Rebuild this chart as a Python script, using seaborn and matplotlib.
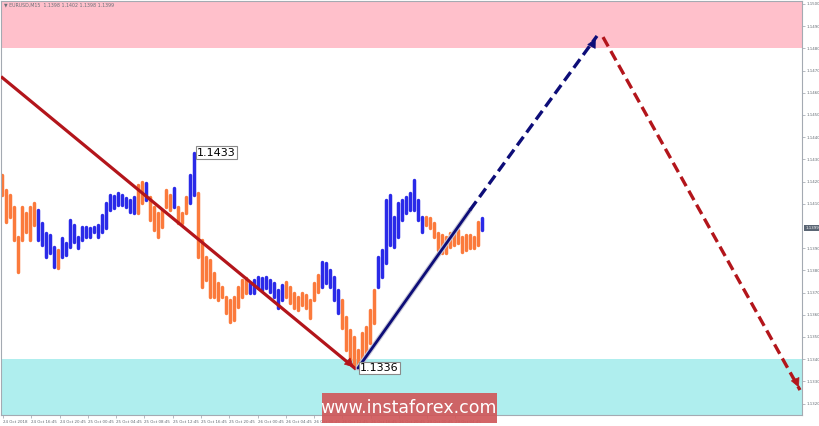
import numpy as np
import pandas as pd
import matplotlib
matplotlib.use("Agg")
import matplotlib.pyplot as plt
import matplotlib.patheffects as pe
from matplotlib.patches import Rectangle
from matplotlib.transforms import blended_transform_factory
import seaborn as sns

# EURUSD M15 bars (high / low per bar, "U" = blue, "D" = orange)
highs = [
    1.14230, 1.14162, 1.14140, 1.14086, 1.13950, 1.14086, 1.14059, 1.14086, 1.14104, 1.14072,
    1.14014, 1.13968, 1.13959, 1.13905, 1.13892, 1.13946, 1.13923, 1.14027, 1.14005, 1.13950,
    1.13995, 1.13995, 1.13991, 1.13995, 1.14005, 1.14050, 1.14104, 1.14140, 1.14135, 1.14149,
    1.14140, 1.14126, 1.14117, 1.14131, 1.14185, 1.14198, 1.14194, 1.14131, 1.14086, 1.14059,
    1.14072, 1.14162, 1.14140, 1.14171, 1.14086, 1.14059, 1.14131, 1.14230, 1.14329, 1.14149,
    1.13937, 1.13860, 1.13847, 1.13788, 1.13743, 1.13725, 1.13680, 1.13667, 1.13680, 1.13725,
    1.13757, 1.13766, 1.13743, 1.13757, 1.13770, 1.13766, 1.13770, 1.13757, 1.13743, 1.13712,
    1.13734, 1.13748, 1.13725, 1.13698, 1.13680, 1.13698, 1.13689, 1.13667, 1.13743, 1.13779,
    1.13838, 1.13833, 1.13802, 1.13770, 1.13712, 1.13667, 1.13590, 1.13532, 1.13500, 1.13441,
    1.13518, 1.13545, 1.13622, 1.13712, 1.13860, 1.13892, 1.14117, 1.14140, 1.14041, 1.14104,
    1.14117, 1.14131, 1.14149, 1.14207, 1.14117, 1.14041, 1.14041, 1.14036, 1.14014, 1.13968,
    1.13959, 1.13950, 1.13968, 1.13968, 1.13982, 1.13950, 1.13959, 1.13959, 1.13950, 1.14018,
    1.14036,
]
lows = [
    1.14140, 1.14018, 1.14041, 1.13937, 1.13793, 1.13937, 1.13973, 1.13937, 1.14005, 1.13937,
    1.13914, 1.13860, 1.13878, 1.13815, 1.13811, 1.13860, 1.13869, 1.13905, 1.13928, 1.13901,
    1.13937, 1.13950, 1.13950, 1.13973, 1.13950, 1.13973, 1.13991, 1.14072, 1.14081, 1.14095,
    1.14095, 1.14086, 1.14063, 1.14059, 1.14059, 1.14104, 1.14117, 1.14027, 1.13982, 1.13950,
    1.13995, 1.14086, 1.14072, 1.14086, 1.14014, 1.14014, 1.14059, 1.14104, 1.14140, 1.13860,
    1.13725, 1.13757, 1.13680, 1.13680, 1.13667, 1.13680, 1.13608, 1.13568, 1.13577, 1.13635,
    1.13680, 1.13698, 1.13698, 1.13698, 1.13721, 1.13712, 1.13721, 1.13703, 1.13680, 1.13631,
    1.13667, 1.13680, 1.13653, 1.13631, 1.13622, 1.13644, 1.13631, 1.13586, 1.13667, 1.13703,
    1.13725, 1.13743, 1.13725, 1.13667, 1.13608, 1.13541, 1.13441, 1.13396, 1.13374, 1.13360,
    1.13383, 1.13428, 1.13473, 1.13563, 1.13725, 1.13770, 1.13833, 1.13914, 1.13905, 1.13950,
    1.14027, 1.14059, 1.14072, 1.14072, 1.14027, 1.13973, 1.14005, 1.13991, 1.13950, 1.13892,
    1.13878, 1.13878, 1.13905, 1.13914, 1.13923, 1.13883, 1.13892, 1.13901, 1.13901, 1.13914,
    1.13982,
]
# bar colour runs: (side, number of bars)
side_runs = [("D", 9), ("U", 5), ("D", 1), ("U", 19), ("D", 2), ("U", 1), ("D", 6), ("U", 1),
             ("D", 3), ("U", 2), ("D", 13), ("U", 9), ("D", 9), ("U", 5), ("D", 9), ("U", 12),
             ("D", 14), ("U", 1)]
sides = [s for s, k in side_runs for _ in range(k)]

# wave markup: (bar, price)
wave_down_x = [-0.25, 88.5]
wave_down_y = [1.14673, 1.13355]
wave_up_x = [89.0, 117.0, 148.75]
wave_up_y = [1.13360, 1.14072, 1.14856]
wave_next_x = [150.25, 199.5]
wave_next_y = [1.14851, 1.13261]

label_high = (48.75, 1.1433, "1.1433")
label_low = (89.5, 1.1336, "1.1336")

zone_sell = (1.1480, 1.1510)
zone_buy = (1.1300, 1.1340)
last_price = 1.1399

y_ticks = [1.1500, 1.1490, 1.1480, 1.1470, 1.1460, 1.1450, 1.1440, 1.1430, 1.1420, 1.1410,
           1.1390, 1.1380, 1.1370, 1.1360, 1.1350, 1.1340, 1.1330, 1.1320]
x_labels = ["24 Oct 2018", "24 Oct 16:45", "24 Oct 20:45", "25 Oct 00:45", "25 Oct 04:45",
            "25 Oct 08:45", "25 Oct 12:45", "25 Oct 16:45", "25 Oct 20:45", "26 Oct 00:45",
            "26 Oct 04:45", "26 Oct 08:45", "26 Oct 12:45", "26 Oct 16:45", "26 Oct 20:45",
            "29 Oct 00:45", "29 Oct 04:45"]

ORANGE = "#fb7a3c"
BLUE = "#2a2ae8"
RED = "#b3151b"
NAVY = "#0d0d78"

sns.set_theme(style="white")
plt.rcParams["font.family"] = ["DejaVu Sans"]

fig = plt.figure(figsize=(8.2, 4.26), dpi=100)
ax = fig.add_axes([1 / 820, 11 / 426, 801 / 820, 414 / 426])

# zones
ax.axhspan(*zone_sell, color="#ffc0cb", lw=0, zorder=0)
ax.axhspan(*zone_buy, color="#afeeee", lw=0, zorder=0)

# price bars
n = len(highs)
bars = pd.DataFrame({
    "bar": list(range(n)) * 2,
    "price": highs + lows,
    "side": sides * 2,
})
sns.lineplot(data=bars, x="bar", y="price", hue="side", units="bar", estimator=None,
             palette={"U": BLUE, "D": ORANGE}, legend=False, linewidth=2.5, ax=ax, zorder=2)

# wave arrows
ax.plot(wave_down_x, wave_down_y, color=RED, lw=2.3, zorder=4, solid_capstyle="butt")
ax.annotate("", xy=(wave_down_x[1], wave_down_y[1]),
            xytext=(wave_down_x[1] - 2.0, wave_down_y[1] + 0.00033),
            arrowprops=dict(arrowstyle="-|>", color=RED, lw=0.5, mutation_scale=15), zorder=5)

stroke = [pe.Stroke(linewidth=3.6, foreground="#c8c8d8"), pe.Normal()]
ax.plot(wave_up_x[:2], wave_up_y[:2], color=NAVY, lw=2.0, zorder=4, path_effects=stroke)
ax.plot(wave_up_x[1:], wave_up_y[1:], color=NAVY, lw=2.4, ls=(0, (3.2, 1.6)), zorder=4)
ax.annotate("", xy=(wave_up_x[2], wave_up_y[2]),
            xytext=(wave_up_x[2] - 1.6, wave_up_y[2] - 0.00055),
            arrowprops=dict(arrowstyle="-|>", color=NAVY, lw=0.5, mutation_scale=15), zorder=5)

ax.plot(wave_next_x, wave_next_y, color=RED, lw=2.4, ls=(0, (3.2, 1.6)), zorder=4)
ax.annotate("", xy=(wave_next_x[1], wave_next_y[1]),
            xytext=(wave_next_x[1] - 1.6, wave_next_y[1] + 0.00065),
            arrowprops=dict(arrowstyle="-|>", color=RED, lw=0.5, mutation_scale=15), zorder=5)

# level labels
for lx, ly, txt in (label_high, label_low):
    ax.text(lx, ly, txt, fontsize=8, color="black", ha="left", va="center", zorder=6,
            bbox=dict(boxstyle="square,pad=0.12", fc="white", ec="#8a8a8a", lw=0.8))

ax.set_xlim(-0.25, 200)
ax.set_ylim(1.131486, 1.150135)

# right price scale
ax.yaxis.tick_right()
ax.set_yticks(y_ticks)
ax.set_yticklabels([f"{v:.4f}" for v in y_ticks])
ax.tick_params(axis="y", labelsize=2.8, labelcolor="#606870", length=2, width=0.5,
               color="#9aa0a8", pad=1.0, right=True)
trans = blended_transform_factory(ax.transAxes, ax.transData)
ax.text(1.004, last_price, f"{last_price:.4f}", transform=trans, fontsize=2.8, color="white",
        ha="left", va="center", bbox=dict(boxstyle="square,pad=0.2", fc="#5a6573", ec="none"))

# time scale
ax.set_xticks(np.arange(len(x_labels)) * 7.07 + 0.25)
ax.set_xticklabels(x_labels, ha="left")
ax.tick_params(axis="x", labelsize=2.9, labelcolor="#606870", length=2, width=0.5,
               color="#9aa0a8", pad=1.5, bottom=True)
ax.set_xlabel("")
ax.set_ylabel("")

for s in ax.spines.values():
    s.set_color("#a4aab2")
    s.set_linewidth(0.8)

fig.text(4 / 820, 1 - 5 / 426, "\u25bc EURUSD,M15  1.1398 1.1402 1.1398 1.1399",
         fontsize=3.4, color="#6a7078", ha="left", va="center")

# watermark
fig.patches.append(Rectangle((322 / 820, 3 / 426), 175 / 820, 30 / 426,
                             transform=fig.transFigure, fc="#d0585a", ec="none",
                             alpha=0.92, zorder=10))
fig.text(409 / 820, 18 / 426, "www.instaforex.com", fontsize=12.5, color="white",
         ha="center", va="center", zorder=11)

fig.savefig("out.png", dpi=100)
plt.close(fig)
